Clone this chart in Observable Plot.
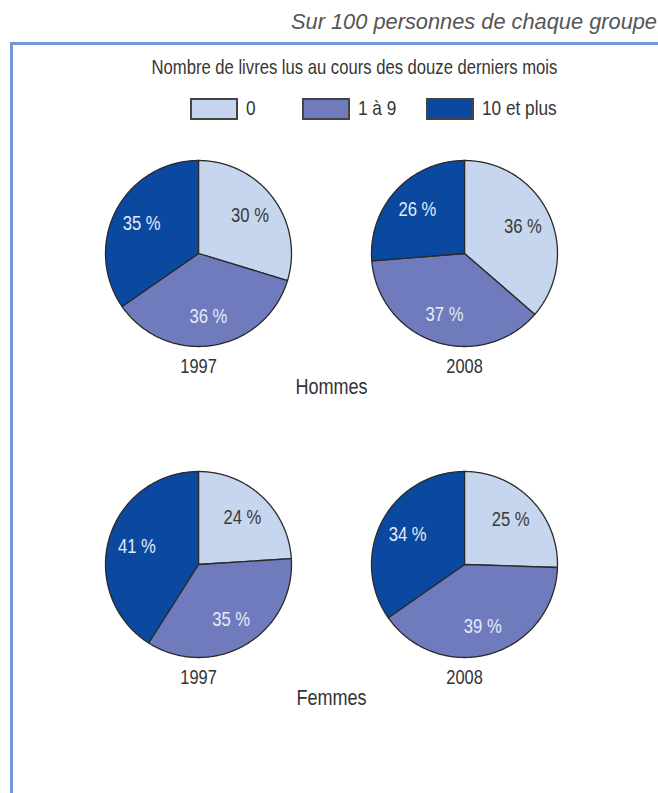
<!DOCTYPE html>
<html>
<head>
<meta charset="utf-8">
<script src="https://cdn.jsdelivr.net/npm/d3@7"></script>
<script src="https://cdn.jsdelivr.net/npm/@observablehq/plot@0.6"></script>
<style>
  html, body { margin: 0; padding: 0; background: #fff; }
  #page { position: relative; width: 658px; height: 793px; overflow: hidden; font-family: "Liberation Sans", Arial, sans-serif; }
  #subtitle { position: absolute; right: 1px; top: 9px; font-style: italic; font-size: 21.8px; color: #555; white-space: nowrap; }
  #frame { position: absolute; left: 10px; top: 42px; width: 700px; height: 800px;
    border-top: 3px solid #7398d8; border-left: 3px solid #7398d8; }
  #title { position: absolute; left: 0; width: 708px; top: 56px; text-align: center; font-size: 20.3px; color: #363636; white-space: nowrap; }
  #title span { display: inline-block; transform: scaleX(0.82); transform-origin: center; }
  .sw { position: absolute; width: 44px; height: 18px; border: 2px solid #444; top: 98px; }
  .lab { position: absolute; top: 96px; font-size: 21px; color: #363636; white-space: nowrap;
    transform: scaleX(0.82); transform-origin: left center; }
  #chart { position: absolute; left: 0; top: 140px; }
</style>
</head>
<body>
<div id="page">
  <div id="subtitle">Sur 100 personnes de chaque groupe</div>
  <div id="frame"></div>
  <div id="title"><span>Nombre de livres lus au cours des douze derniers mois</span></div>
  <div id="legend"></div>
  <div id="chart"></div>
</div>
<script>
const categories = ["0", "1 à 9", "10 et plus"];
const colors = ["#c6d6ee", "#6f7bbd", "#0b49a0"];
const labelColors = ["#3a3a3a", "#e4ebf7", "#e4ebf7"];
const groups = ["Hommes", "Femmes"];
const years = ["1997", "2008"];
const hommes1997 = [30, 36, 35];
const hommes2008 = [36, 37, 26];
const femmes1997 = [24, 35, 41];
const femmes2008 = [25, 39, 34];

const series = [
  {group: "Hommes", year: "1997", values: hommes1997},
  {group: "Hommes", year: "2008", values: hommes2008},
  {group: "Femmes", year: "1997", values: femmes1997},
  {group: "Femmes", year: "2008", values: femmes2008}
];

// legend (HTML)
const legend = document.getElementById("legend");
const swatchLeft = [190, 302, 426];
categories.forEach((c, i) => {
  const sw = document.createElement("div");
  sw.className = "sw";
  sw.style.left = swatchLeft[i] + "px";
  sw.style.background = colors[i];
  legend.appendChild(sw);
  const lab = document.createElement("div");
  lab.className = "lab";
  lab.style.left = (swatchLeft[i] + 56) + "px";
  lab.textContent = c;
  legend.appendChild(lab);
});

// build slice polygons and labels
const pie = d3.pie().sort(null).value(d => d);
const polys = [];
const labels = [];
for (const s of series) {
  const arcs = pie(s.values);
  arcs.forEach((a, i) => {
    const key = `${s.group}-${s.year}-${i}`;
    const n = Math.max(2, Math.ceil((a.endAngle - a.startAngle) / 0.01));
    polys.push({key, group: s.group, year: s.year, cat: categories[i], px: 0, py: 0});
    for (let k = 0; k <= n; ++k) {
      const t = a.startAngle + (a.endAngle - a.startAngle) * k / n;
      polys.push({key, group: s.group, year: s.year, cat: categories[i], px: Math.sin(t), py: Math.cos(t)});
    }
    polys.push({key, group: s.group, year: s.year, cat: categories[i], px: 0, py: 0});
    const m = (a.startAngle + a.endAngle) / 2;
    labels.push({group: s.group, year: s.year, cat: categories[i], idx: i,
      lx: 0.69 * Math.sin(m), ly: 0.69 * Math.cos(m), text: `${a.data} %`});
  });
}
const yearLabels = series.map(s => ({group: s.group, year: s.year}));
const groupLabels = groups.map(g => ({group: g, year: years[0], text: g}));

const chart = Plot.plot({
  width: 658,
  height: 653,
  marginLeft: 105,
  marginRight: 101,
  marginTop: 20,
  marginBottom: 136,
  style: {fontFamily: `"Liberation Sans", Arial, sans-serif`, background: "transparent", overflow: "visible"},
  fx: {domain: years, paddingInner: 80 / 266, paddingOuter: 0, axis: null},
  fy: {domain: groups, paddingInner: 125 / 311, paddingOuter: 0, axis: null},
  x: {domain: [-1, 1], axis: null},
  y: {domain: [-1, 1], axis: null},
  color: {domain: categories, range: colors},
  marks: [
    Plot.line(polys, {x: "px", y: "py", z: "key", fx: "year", fy: "group", fill: "cat",
      stroke: "#2a2a2a", strokeWidth: 1.3, strokeLinejoin: "round"}),
    Plot.text(labels, {x: "lx", y: "ly", fx: "year", fy: "group", text: "text",
      fill: d => labelColors[d.idx], fontSize: 20.3}),
    Plot.text(yearLabels, {x: () => 0, y: () => -1, fx: "year", fy: "group", text: "year",
      dy: 20, fill: "#333", fontSize: 20}),
    Plot.text(groupLabels, {x: () => 1, y: () => -1, fx: "year", fy: "group", text: "text",
      dx: 40, dy: 40, fill: "#333", fontSize: 22})
  ]
});
document.getElementById("chart").appendChild(chart);
// condense SVG text to mimic a narrow typeface
chart.querySelectorAll("text").forEach(t => {
  const len = t.getComputedTextLength();
  if (len > 0) {
    t.setAttribute("textLength", (len * 0.82).toFixed(2));
    t.setAttribute("lengthAdjust", "spacingAndGlyphs");
  }
});
</script>
</body>
</html>
